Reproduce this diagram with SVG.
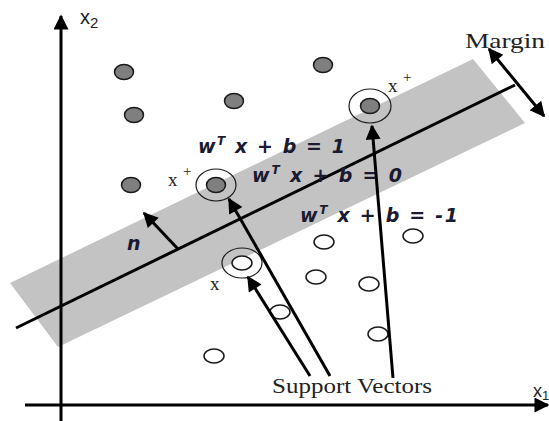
<svg xmlns="http://www.w3.org/2000/svg" width="549" height="421" viewBox="0 0 549 421">
<style>
.ax{stroke:#000;stroke-width:3;fill:none}
.ln{stroke:#000;stroke-width:3;fill:none}
.dot{fill:#7f7f7f;stroke:#1a1a1a;stroke-width:1.5}
.hol{fill:#fff;stroke:#1a1a1a;stroke-width:1.5}
.ring{fill:none;stroke:#1a1a1a;stroke-width:1.2}
.ser{font-family:"Liberation Serif","Times New Roman",serif;fill:#222}
.san{font-family:"Liberation Sans",Arial,sans-serif;fill:#222}
.eq{font-family:"DejaVu Sans",Verdana,sans-serif;font-weight:bold;font-style:italic;fill:#1a1a30;font-size:19px}
</style>
<defs>
<marker id="ah" viewBox="0 0 10 10" refX="9" refY="5" markerWidth="5.5" markerHeight="5" orient="auto-start-reverse" markerUnits="strokeWidth">
<path d="M0,0 L10,5 L0,10 Z" fill="#000"/>
</marker>
</defs>
<rect width="549" height="421" fill="#fff"/>
<g id="band">
<polygon points="10,283 473,59 525,123 58,347" fill="#c3c3c3"/>
</g>
<g id="axes">
<line class="ax" x1="61" y1="421" x2="61" y2="16" marker-end="url(#ah)"/>
<line class="ax" x1="25" y1="405" x2="548" y2="405" marker-end="url(#ah)"/>
<text class="san" x="80" y="24" font-size="20">x<tspan font-size="15" dy="4">2</tspan></text>
<text class="san" x="533" y="397" font-size="18">x<tspan font-size="13" dy="3">1</tspan></text>
</g>
<g id="hyperplane">
<line class="ln" x1="16" y1="328" x2="515" y2="85"/>
</g>
<g id="margin">
<line class="ln" x1="489" y1="49" x2="544" y2="116" marker-start="url(#ah)" marker-end="url(#ah)"/>
<text class="ser" x="465" y="48" font-size="21" textLength="80" lengthAdjust="spacingAndGlyphs">Margin</text>
</g>
<g id="class-pos">
<ellipse class="dot" cx="124" cy="72" rx="9.5" ry="7.5"/>
<ellipse class="dot" cx="134" cy="115" rx="9.5" ry="7.5"/>
<ellipse class="dot" cx="234" cy="101" rx="9.5" ry="7.5"/>
<ellipse class="dot" cx="323" cy="65" rx="9.5" ry="7.5"/>
<ellipse class="dot" cx="131" cy="185" rx="9.5" ry="7.5"/>
</g>
<g id="sv-pos-1">
<ellipse class="ring" cx="216" cy="185" rx="20" ry="16"/>
<ellipse class="dot" cx="216" cy="185" rx="9.5" ry="7.5"/>
<text class="ser" x="168" y="186" font-size="19">x</text>
<text class="ser" x="183" y="176" font-size="15">+</text>
</g>
<g id="sv-pos-2">
<ellipse class="ring" cx="370" cy="106" rx="21" ry="17"/>
<ellipse class="dot" cx="370" cy="106" rx="9.5" ry="7.5"/>
<text class="ser" x="388" y="92" font-size="19">x</text>
<text class="ser" x="403" y="82" font-size="15">+</text>
</g>
<g id="class-neg">
<ellipse class="hol" cx="324" cy="242" rx="10" ry="7"/>
<ellipse class="hol" cx="413" cy="236" rx="10" ry="7"/>
<ellipse class="hol" cx="316" cy="277" rx="10" ry="7"/>
<ellipse class="hol" cx="369" cy="284" rx="10" ry="7"/>
<ellipse class="hol" cx="280" cy="312" rx="10" ry="7"/>
<ellipse class="hol" cx="378" cy="334" rx="10" ry="7"/>
<ellipse class="hol" cx="214" cy="356" rx="10" ry="7"/>
</g>
<g id="sv-neg">
<ellipse class="ring" cx="242" cy="263" rx="20" ry="15"/>
<ellipse class="hol" cx="242" cy="263" rx="10" ry="7"/>
<text class="ser" x="210" y="290" font-size="19">x</text>
</g>
<g id="equations">
<text class="eq" x="198" y="153" textLength="147" lengthAdjust="spacing">w<tspan font-size="12" dy="-8">T</tspan><tspan dy="8"> x + b = 1</tspan></text>
<text class="eq" x="252" y="182" textLength="150" lengthAdjust="spacing">w<tspan font-size="12" dy="-8">T</tspan><tspan dy="8"> x + b = 0</tspan></text>
<text class="eq" x="300" y="222" textLength="158" lengthAdjust="spacing">w<tspan font-size="12" dy="-8">T</tspan><tspan dy="8"> x + b = -1</tspan></text>
</g>
<g id="normal">
<line class="ln" x1="178" y1="249" x2="144" y2="213" marker-end="url(#ah)"/>
<text class="eq" x="127" y="250" font-size="19">n</text>
</g>
<g id="connectors">
<line class="ln" x1="310" y1="376" x2="248" y2="277" marker-end="url(#ah)"/>
<line class="ln" x1="330" y1="376" x2="229" y2="199" marker-end="url(#ah)"/>
<line class="ln" x1="393" y1="378" x2="372" y2="126" marker-end="url(#ah)"/>
</g>
<g id="support-label">
<text class="ser" x="272" y="393" font-size="20" textLength="160" lengthAdjust="spacingAndGlyphs">Support Vectors</text>
</g>
</svg>
